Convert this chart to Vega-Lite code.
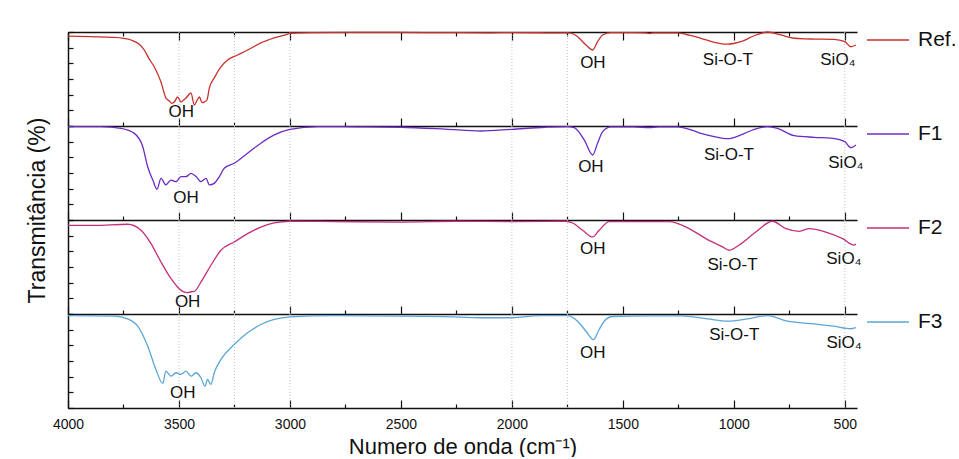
{
  "$schema": "https://vega.github.io/schema/vega-lite/v6.json",
  "padding": {"left": 25, "top": 18, "right": 2, "bottom": 0},
  "autosize": {"type": "pad"},
  "bounds": "flush",
  "spacing": 0,
  "config": {
    "font": "Liberation Sans",
    "view": {"stroke": null},
    "axis": {"grid": false, "domainColor": "#111", "domainWidth": 1.5, "tickColor": "#111", "tickWidth": 1.2, "labelColor": "#111", "titleColor": "#111", "titleFontWeight": "normal"},
    "axisX": {"tickSize": {"condition": {"test": "datum.value % 500 === 0", "value": -8}, "value": -4}},
    "axisY": {"tickSize": -5},
    "legend": {"orient": "none", "legendX": 798, "legendY": -14, "symbolType": "stroke", "symbolSize": 1764, "symbolStrokeWidth": 1.5, "labelFontSize": 21, "labelColor": "#111", "labelOffset": 8, "padding": 0}
  },
  "datasets": {
    "spectra": [
      {"s":"Ref.","w":4000,"t":97.4},{"s":"Ref.","w":3900,"t":97.0},{"s":"Ref.","w":3800,"t":96.6},{"s":"Ref.","w":3750,"t":96.0},{"s":"Ref.","w":3716,"t":94.9},{"s":"Ref.","w":3680,"t":92.3},{"s":"Ref.","w":3656,"t":88.5},{"s":"Ref.","w":3635,"t":83.0},{"s":"Ref.","w":3611,"t":77.7},{"s":"Ref.","w":3581,"t":68.1},{"s":"Ref.","w":3559,"t":57.9},{"s":"Ref.","w":3544,"t":56.0},{"s":"Ref.","w":3532,"t":54.5},{"s":"Ref.","w":3521,"t":55.3},{"s":"Ref.","w":3506,"t":58.5},{"s":"Ref.","w":3491,"t":55.3},{"s":"Ref.","w":3480,"t":56.5},{"s":"Ref.","w":3468,"t":57.9},{"s":"Ref.","w":3446,"t":61.1},{"s":"Ref.","w":3431,"t":53.4},{"s":"Ref.","w":3420,"t":56.0},{"s":"Ref.","w":3408,"t":58.5},{"s":"Ref.","w":3396,"t":55.0},{"s":"Ref.","w":3386,"t":55.3},{"s":"Ref.","w":3374,"t":56.6},{"s":"Ref.","w":3363,"t":64.3},{"s":"Ref.","w":3341,"t":70.7},{"s":"Ref.","w":3311,"t":77.7},{"s":"Ref.","w":3281,"t":82.1},{"s":"Ref.","w":3236,"t":85.3},{"s":"Ref.","w":3191,"t":88.5},{"s":"Ref.","w":3131,"t":93.0},{"s":"Ref.","w":3071,"t":96.2},{"s":"Ref.","w":3010,"t":98.7},{"s":"Ref.","w":3000,"t":99.2},{"s":"Ref.","w":2900,"t":99.6},{"s":"Ref.","w":2700,"t":99.7},{"s":"Ref.","w":2500,"t":99.7},{"s":"Ref.","w":2300,"t":99.6},{"s":"Ref.","w":2100,"t":99.5},{"s":"Ref.","w":2000,"t":99.6},{"s":"Ref.","w":1850,"t":99.5},{"s":"Ref.","w":1750,"t":99.4},{"s":"Ref.","w":1734,"t":99.3},{"s":"Ref.","w":1704,"t":97.0},{"s":"Ref.","w":1666,"t":91.7},{"s":"Ref.","w":1636,"t":88.5},{"s":"Ref.","w":1614,"t":93.8},{"s":"Ref.","w":1591,"t":98.1},{"s":"Ref.","w":1554,"t":99.6},{"s":"Ref.","w":1450,"t":99.6},{"s":"Ref.","w":1400,"t":99.5},{"s":"Ref.","w":1380,"t":99.0},{"s":"Ref.","w":1360,"t":99.5},{"s":"Ref.","w":1253,"t":99.4},{"s":"Ref.","w":1200,"t":98.0},{"s":"Ref.","w":1148,"t":96.0},{"s":"Ref.","w":1088,"t":93.4},{"s":"Ref.","w":1028,"t":92.2},{"s":"Ref.","w":968,"t":93.8},{"s":"Ref.","w":908,"t":97.6},{"s":"Ref.","w":848,"t":100.0},{"s":"Ref.","w":788,"t":98.1},{"s":"Ref.","w":728,"t":96.0},{"s":"Ref.","w":680,"t":95.6},{"s":"Ref.","w":638,"t":95.5},{"s":"Ref.","w":548,"t":95.3},{"s":"Ref.","w":500,"t":93.8},{"s":"Ref.","w":473,"t":90.6},{"s":"Ref.","w":450,"t":91.7},
      {"s":"F1","w":4000,"t":99.6},{"s":"F1","w":3851,"t":99.6},{"s":"F1","w":3761,"t":98.5},{"s":"F1","w":3701,"t":95.3},{"s":"F1","w":3663,"t":86.8},{"s":"F1","w":3641,"t":74.0},{"s":"F1","w":3618,"t":65.5},{"s":"F1","w":3599,"t":59.6},{"s":"F1","w":3581,"t":66.6},{"s":"F1","w":3559,"t":62.4},{"s":"F1","w":3536,"t":65.5},{"s":"F1","w":3513,"t":64.5},{"s":"F1","w":3491,"t":67.7},{"s":"F1","w":3468,"t":67.7},{"s":"F1","w":3446,"t":69.8},{"s":"F1","w":3423,"t":67.7},{"s":"F1","w":3401,"t":64.5},{"s":"F1","w":3378,"t":66.6},{"s":"F1","w":3363,"t":62.4},{"s":"F1","w":3341,"t":63.4},{"s":"F1","w":3318,"t":67.7},{"s":"F1","w":3296,"t":73.0},{"s":"F1","w":3251,"t":76.2},{"s":"F1","w":3191,"t":82.6},{"s":"F1","w":3131,"t":89.0},{"s":"F1","w":3071,"t":94.3},{"s":"F1","w":3000,"t":97.9},{"s":"F1","w":2875,"t":99.6},{"s":"F1","w":2700,"t":99.5},{"s":"F1","w":2500,"t":99.2},{"s":"F1","w":2300,"t":98.0},{"s":"F1","w":2139,"t":96.8},{"s":"F1","w":2000,"t":97.9},{"s":"F1","w":1850,"t":99.2},{"s":"F1","w":1750,"t":99.6},{"s":"F1","w":1719,"t":98.9},{"s":"F1","w":1674,"t":91.1},{"s":"F1","w":1636,"t":81.5},{"s":"F1","w":1614,"t":89.0},{"s":"F1","w":1591,"t":96.4},{"s":"F1","w":1554,"t":99.4},{"s":"F1","w":1450,"t":99.5},{"s":"F1","w":1381,"t":98.9},{"s":"F1","w":1340,"t":99.5},{"s":"F1","w":1253,"t":99.5},{"s":"F1","w":1200,"t":97.8},{"s":"F1","w":1148,"t":95.3},{"s":"F1","w":1088,"t":93.2},{"s":"F1","w":1028,"t":91.9},{"s":"F1","w":968,"t":94.3},{"s":"F1","w":908,"t":97.9},{"s":"F1","w":848,"t":99.6},{"s":"F1","w":803,"t":98.5},{"s":"F1","w":728,"t":93.8},{"s":"F1","w":638,"t":92.8},{"s":"F1","w":563,"t":92.3},{"s":"F1","w":500,"t":90.0},{"s":"F1","w":473,"t":86.2},{"s":"F1","w":450,"t":87.9},
      {"s":"F2","w":4000,"t":96.6},{"s":"F2","w":3882,"t":96.6},{"s":"F2","w":3731,"t":97.3},{"s":"F2","w":3671,"t":93.4},{"s":"F2","w":3626,"t":84.9},{"s":"F2","w":3581,"t":73.2},{"s":"F2","w":3536,"t":62.6},{"s":"F2","w":3491,"t":55.1},{"s":"F2","w":3461,"t":53.6},{"s":"F2","w":3445,"t":54.2},{"s":"F2","w":3431,"t":54.4},{"s":"F2","w":3401,"t":60.4},{"s":"F2","w":3356,"t":71.1},{"s":"F2","w":3311,"t":80.7},{"s":"F2","w":3251,"t":86.0},{"s":"F2","w":3191,"t":91.3},{"s":"F2","w":3131,"t":95.5},{"s":"F2","w":3071,"t":98.1},{"s":"F2","w":3000,"t":99.2},{"s":"F2","w":2800,"t":99.0},{"s":"F2","w":2500,"t":98.7},{"s":"F2","w":2252,"t":99.2},{"s":"F2","w":2000,"t":99.0},{"s":"F2","w":1757,"t":99.2},{"s":"F2","w":1726,"t":98.1},{"s":"F2","w":1681,"t":93.4},{"s":"F2","w":1636,"t":89.2},{"s":"F2","w":1607,"t":93.4},{"s":"F2","w":1561,"t":99.0},{"s":"F2","w":1400,"t":99.0},{"s":"F2","w":1291,"t":99.0},{"s":"F2","w":1201,"t":94.5},{"s":"F2","w":1126,"t":88.1},{"s":"F2","w":1051,"t":82.8},{"s":"F2","w":1021,"t":80.7},{"s":"F2","w":976,"t":84.0},{"s":"F2","w":901,"t":92.3},{"s":"F2","w":826,"t":99.2},{"s":"F2","w":765,"t":94.5},{"s":"F2","w":705,"t":92.8},{"s":"F2","w":660,"t":94.5},{"s":"F2","w":585,"t":92.3},{"s":"F2","w":510,"t":88.1},{"s":"F2","w":458,"t":84.0},{"s":"F2","w":450,"t":84.6},
      {"s":"F3","w":4000,"t":99.0},{"s":"F3","w":3791,"t":98.7},{"s":"F3","w":3731,"t":96.9},{"s":"F3","w":3686,"t":92.2},{"s":"F3","w":3641,"t":79.5},{"s":"F3","w":3604,"t":64.6},{"s":"F3","w":3573,"t":55.7},{"s":"F3","w":3559,"t":63.5},{"s":"F3","w":3536,"t":60.3},{"s":"F3","w":3513,"t":62.5},{"s":"F3","w":3491,"t":61.4},{"s":"F3","w":3468,"t":63.5},{"s":"F3","w":3446,"t":60.3},{"s":"F3","w":3423,"t":62.5},{"s":"F3","w":3401,"t":59.3},{"s":"F3","w":3383,"t":53.9},{"s":"F3","w":3371,"t":58.2},{"s":"F3","w":3356,"t":55.0},{"s":"F3","w":3341,"t":62.5},{"s":"F3","w":3311,"t":71.0},{"s":"F3","w":3251,"t":80.5},{"s":"F3","w":3191,"t":88.0},{"s":"F3","w":3131,"t":93.3},{"s":"F3","w":3071,"t":96.5},{"s":"F3","w":3000,"t":98.2},{"s":"F3","w":2800,"t":99.0},{"s":"F3","w":2500,"t":98.7},{"s":"F3","w":2300,"t":98.3},{"s":"F3","w":2139,"t":97.6},{"s":"F3","w":2000,"t":97.6},{"s":"F3","w":1869,"t":99.0},{"s":"F3","w":1750,"t":99.0},{"s":"F3","w":1704,"t":95.4},{"s":"F3","w":1666,"t":89.0},{"s":"F3","w":1632,"t":83.7},{"s":"F3","w":1607,"t":90.1},{"s":"F3","w":1584,"t":95.4},{"s":"F3","w":1546,"t":98.4},{"s":"F3","w":1400,"t":98.8},{"s":"F3","w":1238,"t":98.8},{"s":"F3","w":1118,"t":96.9},{"s":"F3","w":1028,"t":95.4},{"s":"F3","w":938,"t":96.9},{"s":"F3","w":848,"t":99.0},{"s":"F3","w":758,"t":95.4},{"s":"F3","w":638,"t":93.7},{"s":"F3","w":548,"t":92.2},{"s":"F3","w":473,"t":90.6},{"s":"F3","w":450,"t":91.3}
    ],
    "labels": [
      {"s":"Ref.","w":3490,"t":48.9,"label":"OH"},{"s":"Ref.","w":1635,"t":80.2,"label":"OH"},{"s":"Ref.","w":1027,"t":82.1,"label":"Si-O-T"},{"s":"Ref.","w":531,"t":82.1,"label":"SiO₄"},
      {"s":"F1","w":3468,"t":54.1,"label":"OH"},{"s":"F1","w":1644,"t":73.8,"label":"OH"},{"s":"F1","w":1022,"t":81.5,"label":"Si-O-T"},{"s":"F1","w":495,"t":76.4,"label":"SiO₄"},
      {"s":"F2","w":3461,"t":47.7,"label":"OH"},{"s":"F2","w":1636,"t":81.7,"label":"OH"},{"s":"F2","w":1006,"t":71.1,"label":"Si-O-T"},{"s":"F2","w":504,"t":75.3,"label":"SiO₄"},
      {"s":"F3","w":3483,"t":49.4,"label":"OH"},{"s":"F3","w":1636,"t":74.9,"label":"OH"},{"s":"F3","w":998,"t":86.6,"label":"Si-O-T"},{"s":"F3","w":503,"t":81.3,"label":"SiO₄"}
    ],
    "guides": [{"w":3500},{"w":3250},{"w":3000},{"w":2000},{"w":1750},{"w":500}]
  },
  "vconcat": [
    {
      "width": 789, "height": 94,
      "layer": [
        {"data": {"name": "guides"}, "mark": {"type": "rule", "color": "#c4c4c4", "strokeDash": [1, 2], "strokeWidth": 1},
         "encoding": {"x": {"field": "w", "type": "quantitative", "scale": {"domain": [445, 4000], "reverse": true, "nice": false, "zero": false},
           "axis": {"orient": "top", "values": [4000,3750,3500,3250,3000,2750,2500,2250,2000,1750,1500,1250,1000,750,500], "labels": false, "title": null}}}},
        {"data": {"name": "spectra"}, "transform": [{"filter": "datum.s === 'Ref.'"}], "mark": {"type": "line", "strokeWidth": 1.3, "interpolate": "monotone"},
         "encoding": {"x": {"field": "w", "type": "quantitative", "scale": {"domain": [445, 4000], "reverse": true, "nice": false, "zero": false},
           "axis": {"orient": "bottom", "values": [4000,3750,3500,3250,3000,2750,2500,2250,2000,1750,1500,1250,1000,750,500], "labels": false, "title": null}},
           "y": {"field": "t", "type": "quantitative", "scale": {"domain": [40, 100], "nice": false, "zero": false}, "axis": {"orient": "left", "values": [40,50,60,70,80,90,100], "labels": false, "title": null}},
           "color": {"field": "s", "type": "nominal", "scale": {"domain": ["Ref."], "range": ["#c8302c"]}, "legend": {"title": null}}}},
        {"data": {"name": "labels"}, "transform": [{"filter": "datum.s === 'Ref.'"}], "mark": {"type": "text", "fontSize": 17, "color": "#111", "align": "center", "baseline": "middle"},
         "encoding": {"x": {"field": "w", "type": "quantitative", "scale": {"domain": [445, 4000], "reverse": true, "nice": false, "zero": false}, "axis": null},
           "y": {"field": "t", "type": "quantitative", "scale": {"domain": [40, 100], "nice": false, "zero": false}, "axis": null},
           "text": {"field": "label"}}}
      ],
      "resolve": {"axis": {"x": "independent", "y": "independent"}}
    },
    {
      "width": 789, "height": 94,
      "layer": [
        {"data": {"name": "guides"}, "mark": {"type": "rule", "color": "#c4c4c4", "strokeDash": [1, 2], "strokeWidth": 1},
         "encoding": {"x": {"field": "w", "type": "quantitative", "scale": {"domain": [445, 4000], "reverse": true, "nice": false, "zero": false}, "axis": null}}},
        {"data": {"name": "spectra"}, "transform": [{"filter": "datum.s === 'F1'"}], "mark": {"type": "line", "strokeWidth": 1.3, "interpolate": "monotone"},
         "encoding": {"x": {"field": "w", "type": "quantitative", "scale": {"domain": [445, 4000], "reverse": true, "nice": false, "zero": false},
           "axis": {"orient": "bottom", "values": [4000,3750,3500,3250,3000,2750,2500,2250,2000,1750,1500,1250,1000,750,500], "labels": false, "title": null}},
           "y": {"field": "t", "type": "quantitative", "scale": {"domain": [40, 100], "nice": false, "zero": false},
             "axis": {"orient": "left", "values": [40,50,60,70,80,90,100], "labels": false, "title": "Transmitância (%)", "titleFontSize": 23, "titleX": -31, "titleY": 84, "titleAngle": -90, "titleAlign": "center", "titleBaseline": "middle"}},
           "color": {"field": "s", "type": "nominal", "scale": {"domain": ["F1"], "range": ["#6a2cc4"]}, "legend": {"title": null}}}},
        {"data": {"name": "labels"}, "transform": [{"filter": "datum.s === 'F1'"}], "mark": {"type": "text", "fontSize": 17, "color": "#111", "align": "center", "baseline": "middle"},
         "encoding": {"x": {"field": "w", "type": "quantitative", "scale": {"domain": [445, 4000], "reverse": true, "nice": false, "zero": false}, "axis": null},
           "y": {"field": "t", "type": "quantitative", "scale": {"domain": [40, 100], "nice": false, "zero": false}, "axis": null},
           "text": {"field": "label"}}}
      ],
      "resolve": {"axis": {"x": "independent", "y": "independent"}}
    },
    {
      "width": 789, "height": 94,
      "layer": [
        {"data": {"name": "guides"}, "mark": {"type": "rule", "color": "#c4c4c4", "strokeDash": [1, 2], "strokeWidth": 1},
         "encoding": {"x": {"field": "w", "type": "quantitative", "scale": {"domain": [445, 4000], "reverse": true, "nice": false, "zero": false}, "axis": null}}},
        {"data": {"name": "spectra"}, "transform": [{"filter": "datum.s === 'F2'"}], "mark": {"type": "line", "strokeWidth": 1.3, "interpolate": "monotone"},
         "encoding": {"x": {"field": "w", "type": "quantitative", "scale": {"domain": [445, 4000], "reverse": true, "nice": false, "zero": false},
           "axis": {"orient": "bottom", "values": [4000,3750,3500,3250,3000,2750,2500,2250,2000,1750,1500,1250,1000,750,500], "labels": false, "title": null}},
           "y": {"field": "t", "type": "quantitative", "scale": {"domain": [40, 100], "nice": false, "zero": false}, "axis": {"orient": "left", "values": [40,50,60,70,80,90,100], "labels": false, "title": null}},
           "color": {"field": "s", "type": "nominal", "scale": {"domain": ["F2"], "range": ["#c42e7a"]}, "legend": {"title": null}}}},
        {"data": {"name": "labels"}, "transform": [{"filter": "datum.s === 'F2'"}], "mark": {"type": "text", "fontSize": 17, "color": "#111", "align": "center", "baseline": "middle"},
         "encoding": {"x": {"field": "w", "type": "quantitative", "scale": {"domain": [445, 4000], "reverse": true, "nice": false, "zero": false}, "axis": null},
           "y": {"field": "t", "type": "quantitative", "scale": {"domain": [40, 100], "nice": false, "zero": false}, "axis": null},
           "text": {"field": "label"}}}
      ],
      "resolve": {"axis": {"x": "independent", "y": "independent"}}
    },
    {
      "width": 789, "height": 94,
      "layer": [
        {"data": {"name": "guides"}, "mark": {"type": "rule", "color": "#c4c4c4", "strokeDash": [1, 2], "strokeWidth": 1},
         "encoding": {"x": {"field": "w", "type": "quantitative", "scale": {"domain": [445, 4000], "reverse": true, "nice": false, "zero": false}, "axis": null}}},
        {"data": {"name": "spectra"}, "transform": [{"filter": "datum.s === 'F3'"}], "mark": {"type": "line", "strokeWidth": 1.3, "interpolate": "monotone"},
         "encoding": {"x": {"field": "w", "type": "quantitative", "scale": {"domain": [445, 4000], "reverse": true, "nice": false, "zero": false},
           "axis": {"orient": "bottom", "values": [4000,3750,3500,3250,3000,2750,2500,2250,2000,1750,1500,1250,1000,750,500], "format": "d",
             "labelExpr": "datum.value % 500 === 0 ? datum.label : ''", "labelFontSize": 14, "labelPadding": 17, "labelFlush": false,
             "title": "Numero de onda (cm⁻¹)", "titleFontSize": 22, "titlePadding": 5}},
           "y": {"field": "t", "type": "quantitative", "scale": {"domain": [40, 100], "nice": false, "zero": false}, "axis": {"orient": "left", "values": [40,50,60,70,80,90,100], "labels": false, "title": null}},
           "color": {"field": "s", "type": "nominal", "scale": {"domain": ["F3"], "range": ["#5ba6d6"]}, "legend": {"title": null}}}},
        {"data": {"name": "labels"}, "transform": [{"filter": "datum.s === 'F3'"}], "mark": {"type": "text", "fontSize": 17, "color": "#111", "align": "center", "baseline": "middle"},
         "encoding": {"x": {"field": "w", "type": "quantitative", "scale": {"domain": [445, 4000], "reverse": true, "nice": false, "zero": false}, "axis": null},
           "y": {"field": "t", "type": "quantitative", "scale": {"domain": [40, 100], "nice": false, "zero": false}, "axis": null},
           "text": {"field": "label"}}}
      ],
      "resolve": {"axis": {"x": "independent", "y": "independent"}}
    }
  ],
  "resolve": {"scale": {"x": "independent", "y": "independent", "color": "independent"}, "legend": {"color": "independent"}}
}
